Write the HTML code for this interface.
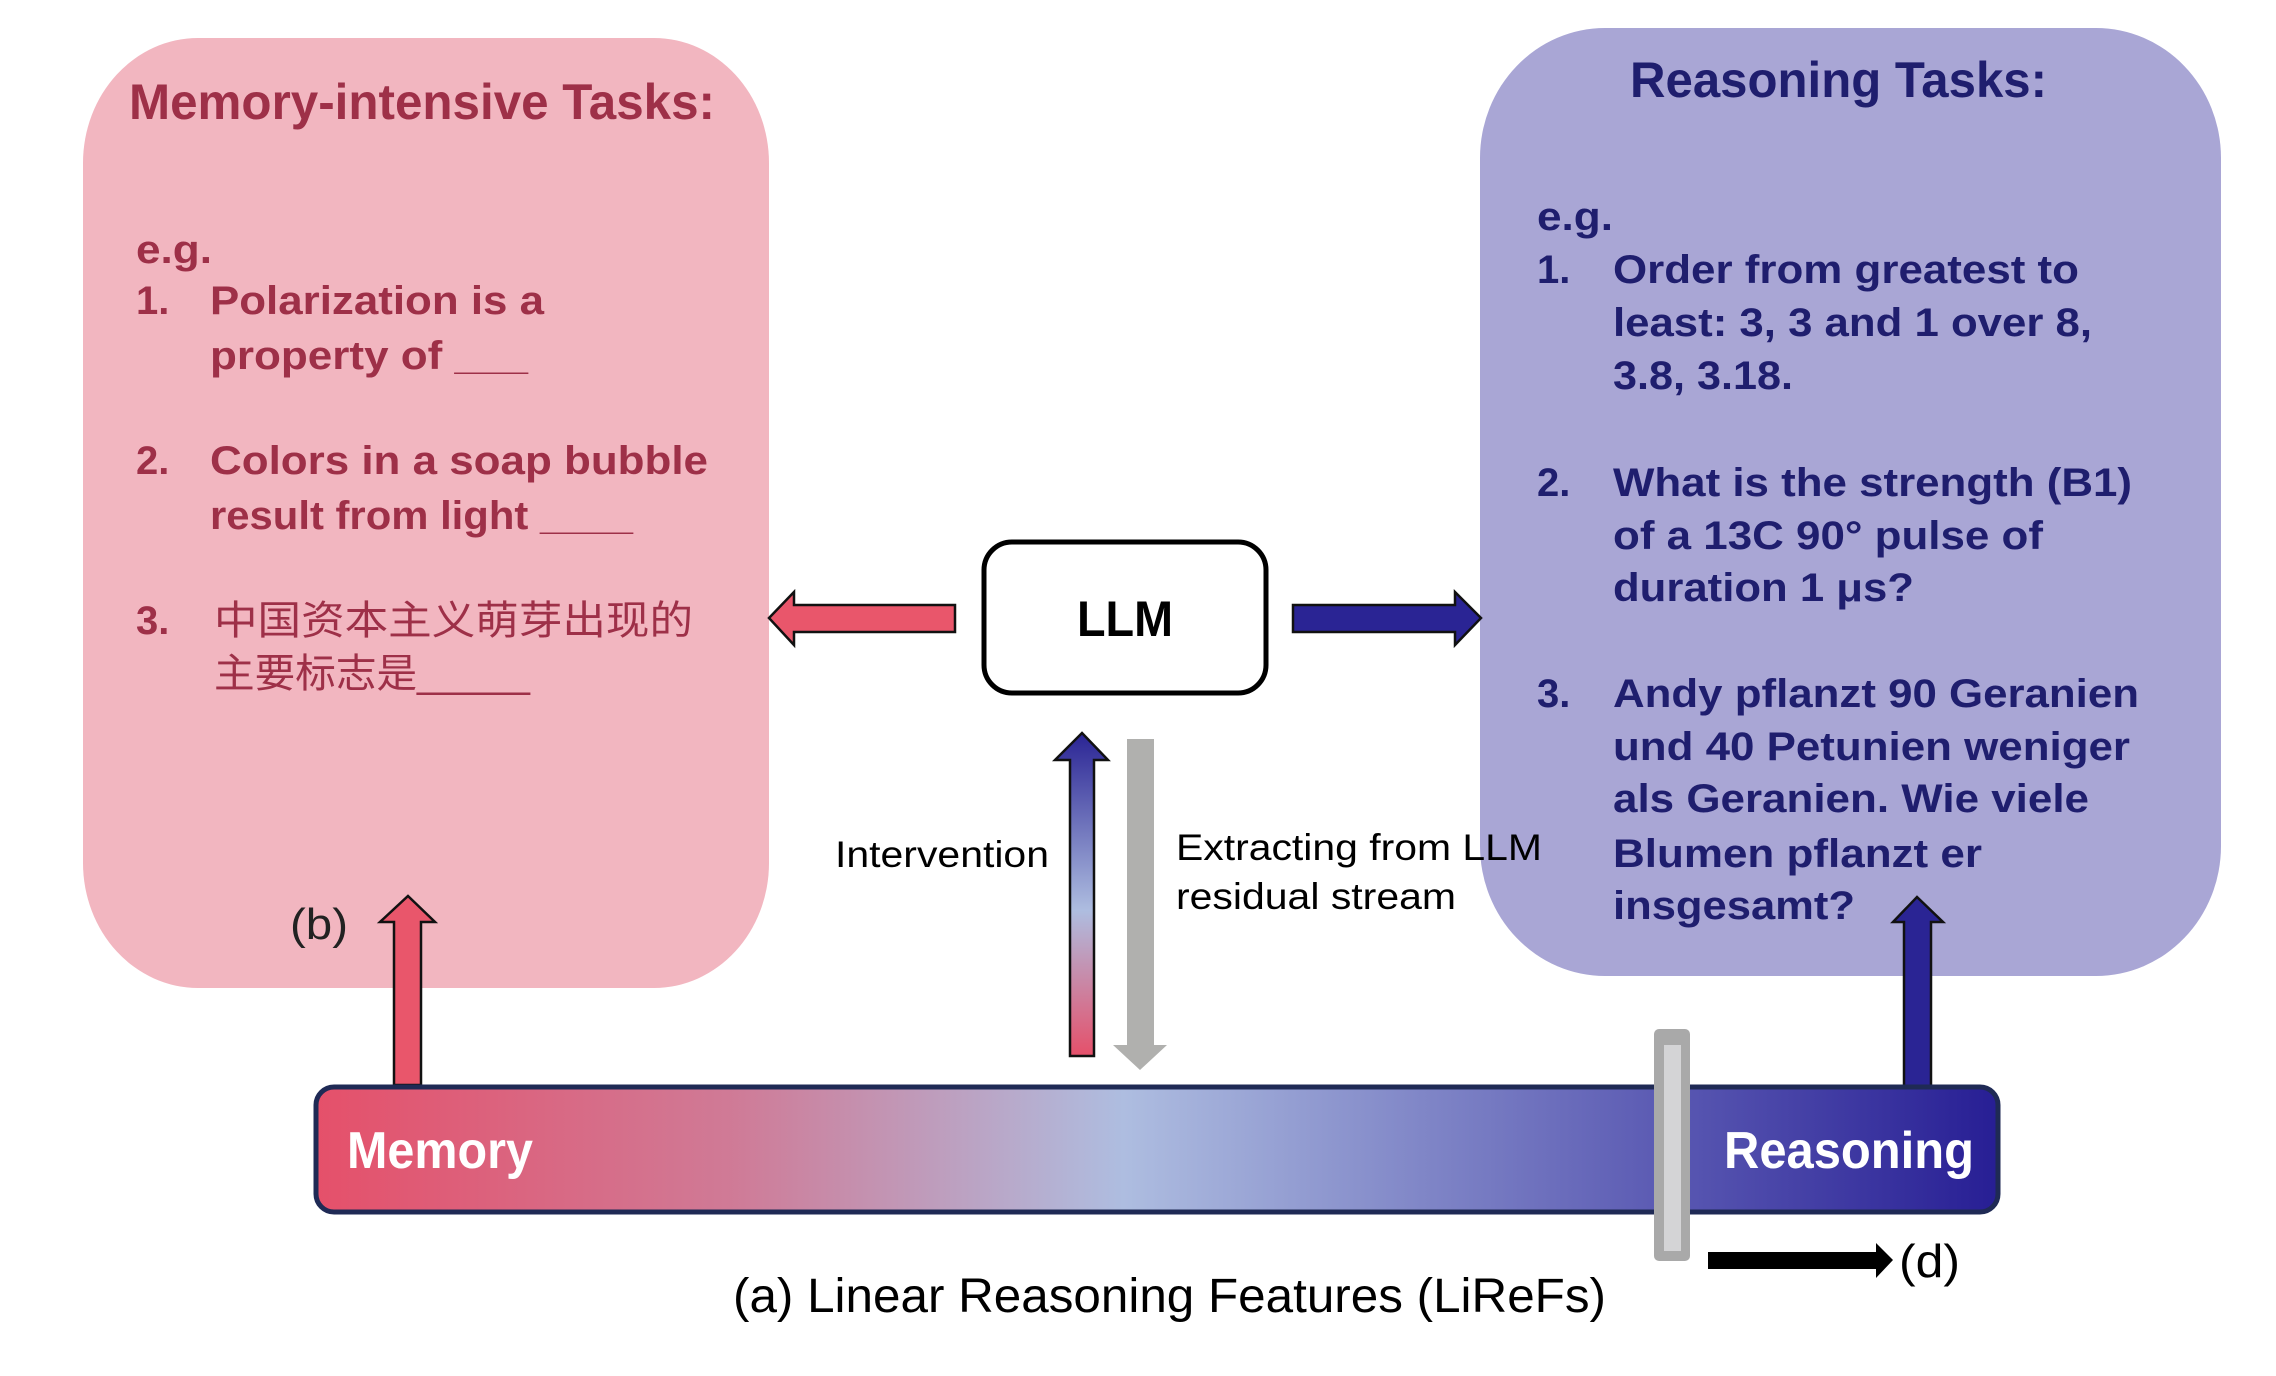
<!DOCTYPE html>
<html><head><meta charset="utf-8"><style>
html,body{margin:0;padding:0;background:#fff;}
svg{display:block;}
</style></head><body>
<svg width="2276" height="1376" viewBox="0 0 2276 1376" xmlns="http://www.w3.org/2000/svg" font-family="'Liberation Sans','Noto Sans CJK SC',sans-serif">
<defs>
<linearGradient id="bar" x1="0" x2="1" y1="0" y2="0">
<stop offset="0" stop-color="#e5506a"/>
<stop offset="0.25" stop-color="#cf7b97"/>
<stop offset="0.48" stop-color="#aebde0"/>
<stop offset="0.8" stop-color="#5b5ab3"/>
<stop offset="1" stop-color="#271e94"/>
</linearGradient>
<linearGradient id="up" x1="0" x2="0" y1="0" y2="1">
<stop offset="0" stop-color="#2a2494"/>
<stop offset="0.55" stop-color="#aebde0"/>
<stop offset="1" stop-color="#e5506a"/>
</linearGradient>
</defs>

<!-- pink box -->
<rect x="83" y="38" width="686" height="950" rx="115" ry="125" fill="#f2b6c0"/>
<g fill="#9e3048" font-weight="bold">
<text x="129" y="119" font-size="50" textLength="586" lengthAdjust="spacingAndGlyphs">Memory-intensive Tasks:</text>
<text x="136" y="263" font-size="40" textLength="76" lengthAdjust="spacingAndGlyphs">e.g.</text>
<text x="136" y="314" font-size="40">1.</text>
<text x="210" y="314" font-size="40" textLength="334" lengthAdjust="spacingAndGlyphs">Polarization is a</text>
<text x="210" y="369" font-size="40" textLength="318" lengthAdjust="spacingAndGlyphs">property of ___</text>
<text x="136" y="474" font-size="40">2.</text>
<text x="210" y="474" font-size="40" textLength="498" lengthAdjust="spacingAndGlyphs">Colors in a soap bubble</text>
<text x="210" y="529" font-size="40" textLength="423" lengthAdjust="spacingAndGlyphs">result from light ____</text>
<text x="136" y="634" font-size="40">3.</text>
</g>
<g fill="#9e3048" font-weight="normal">
<text x="214" y="634" font-size="40" textLength="479" lengthAdjust="spacingAndGlyphs">中国资本主义萌芽出现的</text>
<text x="214" y="687" font-size="40" textLength="316" lengthAdjust="spacingAndGlyphs">主要标志是_____</text>
</g>

<!-- blue box -->
<rect x="1480" y="28" width="741" height="948" rx="125" ry="130" fill="#a9a6d5"/>
<g fill="#1f1e6e" font-weight="bold">
<text x="1630" y="97" font-size="50" textLength="417" lengthAdjust="spacingAndGlyphs">Reasoning Tasks:</text>
<text x="1537" y="230" font-size="40" textLength="76" lengthAdjust="spacingAndGlyphs">e.g.</text>
<text x="1537" y="283" font-size="40">1.</text>
<text x="1613" y="283" font-size="40" textLength="466" lengthAdjust="spacingAndGlyphs">Order from greatest to</text>
<text x="1613" y="336" font-size="40" textLength="479" lengthAdjust="spacingAndGlyphs">least: 3, 3 and 1 over 8,</text>
<text x="1613" y="389" font-size="40" textLength="180" lengthAdjust="spacingAndGlyphs">3.8, 3.18.</text>
<text x="1537" y="496" font-size="40">2.</text>
<text x="1613" y="496" font-size="40" textLength="519" lengthAdjust="spacingAndGlyphs">What is the strength (B1)</text>
<text x="1613" y="549" font-size="40" textLength="430" lengthAdjust="spacingAndGlyphs">of a 13C 90° pulse of</text>
<text x="1613" y="601" font-size="40" textLength="301" lengthAdjust="spacingAndGlyphs">duration 1 μs?</text>
<text x="1537" y="707" font-size="40">3.</text>
<text x="1613" y="707" font-size="40" textLength="526" lengthAdjust="spacingAndGlyphs">Andy pflanzt 90 Geranien</text>
<text x="1613" y="760" font-size="40" textLength="517" lengthAdjust="spacingAndGlyphs">und 40 Petunien weniger</text>
<text x="1613" y="812" font-size="40" textLength="476" lengthAdjust="spacingAndGlyphs">als Geranien. Wie viele</text>
<text x="1613" y="867" font-size="40" textLength="369" lengthAdjust="spacingAndGlyphs">Blumen pflanzt er</text>
<text x="1613" y="919" font-size="40" textLength="242" lengthAdjust="spacingAndGlyphs">insgesamt?</text>
</g>

<!-- LLM box -->
<rect x="984" y="542" width="282" height="151" rx="28" fill="#fff" stroke="#000" stroke-width="5"/>
<text x="1125" y="636" font-size="50" font-weight="bold" text-anchor="middle" textLength="96" lengthAdjust="spacingAndGlyphs">LLM</text>

<!-- left red arrow -->
<polygon points="769,618 794,592 794,605 955,605 955,632 794,632 794,645" fill="#e9566b" stroke="#111" stroke-width="2.5"/>
<!-- right blue arrow -->
<polygon points="1481,618 1455,592 1455,605 1293,605 1293,632 1455,632 1455,645" fill="#2a2494" stroke="#111" stroke-width="2.5"/>

<!-- Intervention arrow -->
<polygon points="1082,733 1108,760 1094,760 1094,1056 1070,1056 1070,760 1055,760" fill="url(#up)" stroke="#111" stroke-width="2.5"/>
<text x="835" y="867" font-size="37" fill="#000" textLength="214" lengthAdjust="spacingAndGlyphs">Intervention</text>
<!-- gray arrow -->
<polygon points="1127,739 1154,739 1154,1045 1167,1045 1140,1070 1113,1045 1127,1045" fill="#b0b0ae"/>
<text x="1176" y="860" font-size="37" fill="#000" textLength="366" lengthAdjust="spacingAndGlyphs">Extracting from LLM</text>
<text x="1176" y="909" font-size="37" fill="#000" textLength="280" lengthAdjust="spacingAndGlyphs">residual stream</text>

<!-- (b) arrow -->
<polygon points="408,896 435,922 421,922 421,1085 394,1085 394,922 380,922" fill="#e9566b" stroke="#111" stroke-width="2.5"/>
<text x="290" y="939" font-size="44" fill="#222" textLength="58" lengthAdjust="spacingAndGlyphs">(b)</text>

<!-- reasoning up arrow -->
<polygon points="1917,897 1943,922 1931,922 1931,1086 1904,1086 1904,922 1893,922" fill="#2a2494" stroke="#111" stroke-width="2.5"/>

<!-- bar -->
<rect x="316" y="1087" width="1682" height="125" rx="18" fill="url(#bar)" stroke="#1f2a55" stroke-width="5"/>
<text x="347" y="1168" font-size="52" font-weight="bold" fill="#fff" textLength="186" lengthAdjust="spacingAndGlyphs">Memory</text>
<text x="1724" y="1168" font-size="52" font-weight="bold" fill="#fff" textLength="250" lengthAdjust="spacingAndGlyphs">Reasoning</text>

<!-- slider -->
<rect x="1654" y="1029" width="36" height="232" rx="5" fill="#a9a9a9"/>
<rect x="1664" y="1045" width="17" height="206" fill="#d4d4d6"/>

<!-- black arrow -->
<polygon points="1708,1252 1876,1252 1876,1243 1893,1260 1876,1278 1876,1269 1708,1269" fill="#000"/>
<text x="1899" y="1277" font-size="46" fill="#000" textLength="61" lengthAdjust="spacingAndGlyphs">(d)</text>

<!-- caption -->
<text x="733" y="1312" font-size="48" fill="#000" textLength="873" lengthAdjust="spacingAndGlyphs">(a) Linear Reasoning Features (LiReFs)</text>
</svg>
</body></html>
